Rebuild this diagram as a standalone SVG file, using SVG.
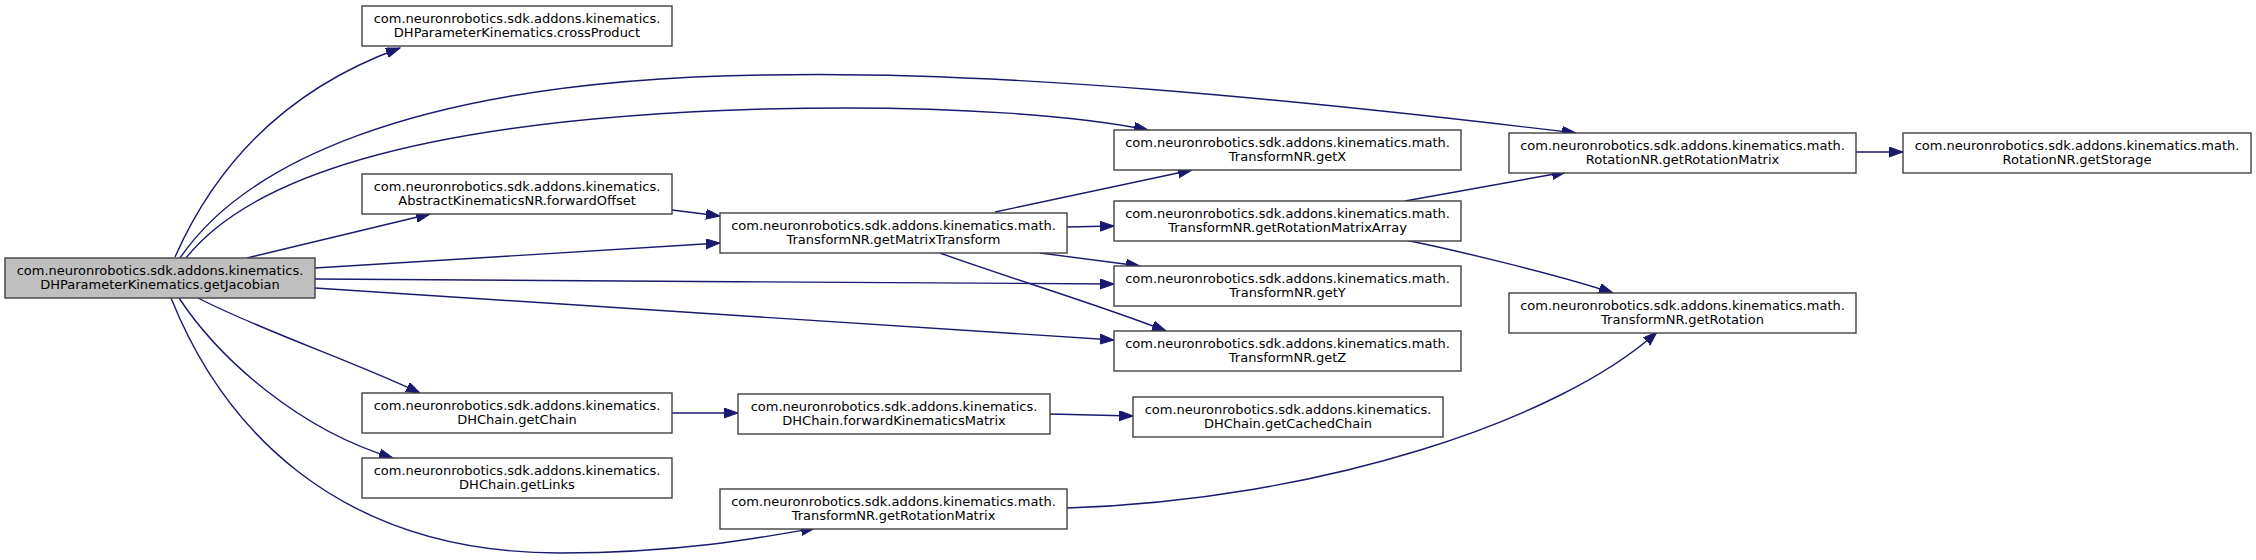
<svg xmlns="http://www.w3.org/2000/svg" width="2256" height="560" viewBox="0 0 2256 560">
<style>
.n rect{fill:#ffffff;stroke:#404040;stroke-width:1.4}
.n.root rect{fill:#bfbfbf}
.n text{font-family:"DejaVu Sans","Liberation Sans",sans-serif;font-size:13px;fill:#000;text-anchor:middle}
.e path{fill:none;stroke:#191970;stroke-width:1.4;marker-end:url(#ah)}
</style>
<defs>
<marker id="ah" markerUnits="userSpaceOnUse" markerWidth="15" markerHeight="11" refX="14" refY="5" orient="auto">
<path d="M0,0 L14,5 L0,10 z" fill="#191970" stroke="#191970" stroke-width="1"/>
</marker>
</defs>
<rect width="2256" height="560" fill="#ffffff"/>
<g id="connectors" class="e">
<path d="M175,257 C220,155 295,86 400,48"/>
<path d="M180,258 C240,170 400,80 765,75 C1000,70 1300,100 1576,133"/>
<path d="M186,258 C240,190 380,120 765,109 C960,104 1090,118 1148,130"/>
<path d="M247,258 L430,214"/>
<path d="M672,210 L720,216"/>
<path d="M315,268 L720,243"/>
<path d="M315,279 C500,280 900,283 1114,284"/>
<path d="M315,288 L1114,340"/>
<path d="M995,212 L1192,170"/>
<path d="M1067,227 L1114,226"/>
<path d="M1040,253 L1140,266"/>
<path d="M940,253 C1000,275 1100,305 1166,331"/>
<path d="M1405,201 L1566,172"/>
<path d="M1405,240 C1450,249 1560,275 1613,293"/>
<path d="M1856,152 L1903,152"/>
<path d="M198,298 C260,330 350,360 420,393"/>
<path d="M179,298 C220,360 300,430 393,458"/>
<path d="M171,298 C220,420 330,553 560,553 C680,553 760,538 815,528"/>
<path d="M672,413 L738,413"/>
<path d="M1050,414 L1133,416"/>
<path d="M1067,508 C1320,500 1560,420 1657,332"/>
</g>
<g id="getJacobian" class="n root"><rect x="5" y="258" width="310" height="40"/><text x="160" y="275">com.neuronrobotics.sdk.addons.kinematics.</text><text x="160" y="289">DHParameterKinematics.getJacobian</text></g>
<g id="crossProduct" class="n"><rect x="362" y="6" width="310" height="40"/><text x="517" y="23">com.neuronrobotics.sdk.addons.kinematics.</text><text x="517" y="37">DHParameterKinematics.crossProduct</text></g>
<g id="forwardOffset" class="n"><rect x="362" y="174" width="310" height="40"/><text x="517" y="191">com.neuronrobotics.sdk.addons.kinematics.</text><text x="517" y="205">AbstractKinematicsNR.forwardOffset</text></g>
<g id="getChain" class="n"><rect x="362" y="393" width="310" height="40"/><text x="517" y="410">com.neuronrobotics.sdk.addons.kinematics.</text><text x="517" y="424">DHChain.getChain</text></g>
<g id="getLinks" class="n"><rect x="362" y="458" width="310" height="40"/><text x="517" y="475">com.neuronrobotics.sdk.addons.kinematics.</text><text x="517" y="489">DHChain.getLinks</text></g>
<g id="getMatrixTransform" class="n"><rect x="720" y="213" width="347" height="40"/><text x="893.5" y="230">com.neuronrobotics.sdk.addons.kinematics.math.</text><text x="893.5" y="244">TransformNR.getMatrixTransform</text></g>
<g id="forwardKinematicsMatrix" class="n"><rect x="738" y="394" width="312" height="40"/><text x="894" y="411">com.neuronrobotics.sdk.addons.kinematics.</text><text x="894" y="425">DHChain.forwardKinematicsMatrix</text></g>
<g id="tGetRotationMatrix" class="n"><rect x="720" y="489" width="347" height="40"/><text x="893.5" y="506">com.neuronrobotics.sdk.addons.kinematics.math.</text><text x="893.5" y="520">TransformNR.getRotationMatrix</text></g>
<g id="getX" class="n"><rect x="1114" y="130" width="347" height="40"/><text x="1287.5" y="147">com.neuronrobotics.sdk.addons.kinematics.math.</text><text x="1287.5" y="161">TransformNR.getX</text></g>
<g id="getRotationMatrixArray" class="n"><rect x="1114" y="201" width="347" height="40"/><text x="1287.5" y="218">com.neuronrobotics.sdk.addons.kinematics.math.</text><text x="1287.5" y="232">TransformNR.getRotationMatrixArray</text></g>
<g id="getY" class="n"><rect x="1114" y="266" width="347" height="40"/><text x="1287.5" y="283">com.neuronrobotics.sdk.addons.kinematics.math.</text><text x="1287.5" y="297">TransformNR.getY</text></g>
<g id="getZ" class="n"><rect x="1114" y="331" width="347" height="40"/><text x="1287.5" y="348">com.neuronrobotics.sdk.addons.kinematics.math.</text><text x="1287.5" y="362">TransformNR.getZ</text></g>
<g id="getCachedChain" class="n"><rect x="1133" y="397" width="310" height="40"/><text x="1288" y="414">com.neuronrobotics.sdk.addons.kinematics.</text><text x="1288" y="428">DHChain.getCachedChain</text></g>
<g id="rGetRotationMatrix" class="n"><rect x="1509" y="133" width="347" height="40"/><text x="1682.5" y="150">com.neuronrobotics.sdk.addons.kinematics.math.</text><text x="1682.5" y="164">RotationNR.getRotationMatrix</text></g>
<g id="getRotation" class="n"><rect x="1509" y="293" width="347" height="40"/><text x="1682.5" y="310">com.neuronrobotics.sdk.addons.kinematics.math.</text><text x="1682.5" y="324">TransformNR.getRotation</text></g>
<g id="getStorage" class="n"><rect x="1903" y="133" width="348" height="40"/><text x="2077" y="150">com.neuronrobotics.sdk.addons.kinematics.math.</text><text x="2077" y="164">RotationNR.getStorage</text></g>
</svg>
